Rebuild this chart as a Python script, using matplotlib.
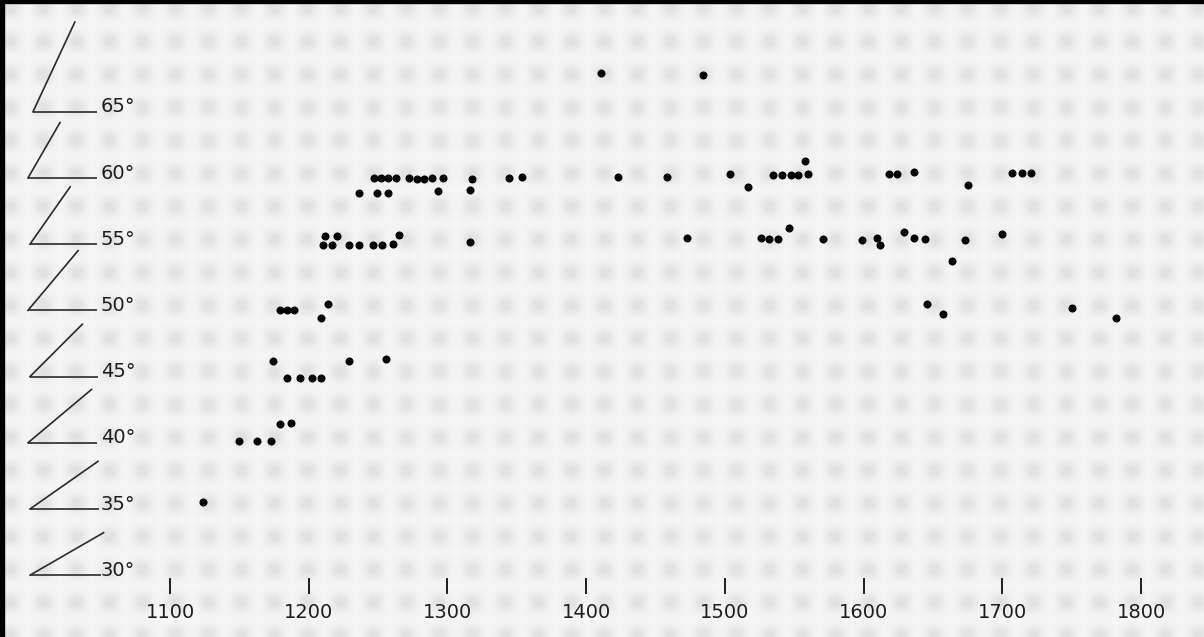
import numpy as np
import matplotlib
matplotlib.use("Agg")
import matplotlib.pyplot as plt
from matplotlib.patches import Rectangle

# ---------------- data ----------------
years_early = [1124, 1150, 1163, 1173, 1179, 1187, 1174, 1184, 1194, 1202, 1209,
               1229, 1256, 1179, 1184, 1189, 1209, 1214, 1210, 1217, 1212, 1220,
               1229, 1236, 1246, 1253, 1261, 1265, 1316, 1236, 1249, 1257, 1293,
               1316, 1247, 1252, 1257, 1263, 1272, 1278, 1283, 1289, 1297, 1318,
               1344, 1354]
angles_early = [35.5, 40.1, 40.1, 40.1, 41.4, 41.5, 46.2, 44.9, 44.9, 44.9, 44.9,
                46.2, 46.3, 50.0, 50.0, 50.0, 49.4, 50.5, 54.9, 54.9, 55.6, 55.6,
                54.9, 54.9, 54.9, 54.9, 55.0, 55.7, 55.2, 58.9, 58.9, 58.9, 59.0,
                59.1, 60.0, 60.0, 60.0, 60.0, 60.0, 59.9, 59.9, 60.0, 60.0, 59.9,
                60.0, 60.1]

years_late = [1411, 1484, 1423, 1458, 1504, 1517, 1535, 1541, 1548, 1553, 1560,
              1558, 1618, 1624, 1636, 1707, 1714, 1721, 1675, 1473, 1526, 1532,
              1538, 1546, 1571, 1599, 1610, 1612, 1629, 1636, 1644, 1673, 1700,
              1664, 1646, 1657, 1750, 1782]
angles_late = [67.9, 67.8, 60.1, 60.1, 60.3, 59.3, 60.2, 60.2, 60.2, 60.2, 60.3,
               61.3, 60.3, 60.3, 60.45, 60.4, 60.4, 60.4, 59.5, 55.5, 55.5, 55.4,
               55.4, 56.2, 55.4, 55.3, 55.5, 54.9, 55.9, 55.5, 55.4, 55.3, 55.8,
               53.7, 50.5, 49.7, 50.2, 49.4]

x_ticks = [1100, 1200, 1300, 1400, 1500, 1600, 1700, 1800]
angle_levels = [65, 60, 55, 50, 45, 40, 35, 30]
angle_labels = ["65°", "60°", "55°", "50°", "45°", "40°", "35°", "30°"]

# ---------------- figure ----------------
W, H = 1204, 637
fig = plt.figure(figsize=(W / 100, H / 100), dpi=100)
ax = fig.add_axes([0, 0, 1, 1])
ax.axis("off")
xmin, xmax = 977.4, 1845.4
ymin, ymax = 25.33, 73.44
ax.set_xlim(xmin, xmax)
ax.set_ylim(ymin, ymax)
ppx = W / (xmax - xmin)   # pixels per year
ppy = H / (ymax - ymin)   # pixels per degree

# soft halftone-like background texture
gx, gy = np.meshgrid(np.arange(W), np.arange(H))
sp = 33.0
spot = (1 + np.cos(2 * np.pi * (gx - 10) / sp)) / 2 * (1 + np.cos(2 * np.pi * (gy - 8) / sp)) / 2
bg = 0.958 - 0.075 * spot
ax.imshow(bg, cmap="gray", vmin=0, vmax=1, extent=[xmin, xmax, ymin, ymax],
          aspect="auto", zorder=0, interpolation="bilinear")

# angle glyphs on the left
starts_px = [33, 28, 30, 28, 30, 28, 30, 30]
ends_px = [97, 97, 97, 97, 98, 97, 99, 101]
lengths_px = [99, 64, 70, 78, 74, 83, 83, 85]
for lvl, lab, s, e, L in zip(angle_levels, angle_labels, starts_px, ends_px, lengths_px):
    x0 = xmin + s / ppx
    x1 = xmin + e / ppx
    ax.plot([x0, x1], [lvl, lvl], color="#2a2a2a", lw=1.2, solid_capstyle="butt", zorder=2)
    th = np.radians(lvl)
    xe = x0 + L * np.cos(th) / ppx
    ye = lvl + L * np.sin(th) / ppy
    ax.plot([x0, xe], [lvl, ye], color="#2a2a2a", lw=1.2, zorder=2)
    ax.text(xmin + 101 / ppx, lvl - 0.05, lab, ha="left", va="baseline",
            fontsize=14, color="#1e1e1e", family="DejaVu Sans", zorder=3)

# x ticks and labels
y_t0 = ymax - 579 / ppy
y_t1 = ymax - 593 / ppy
y_lab = ymax - 612 / ppy
for xt in x_ticks:
    ax.plot([xt, xt], [y_t0, y_t1], color="#1e1e1e", lw=1.4, zorder=2)
    ax.text(xt, y_lab, str(xt), ha="center", va="center", fontsize=14,
            color="#1e1e1e", family="DejaVu Sans", zorder=3)

# data points
ax.plot(years_early, angles_early, "o", color="black", ms=5.8, mec="none", zorder=4)
ax.plot(years_late, angles_late, "o", color="black", ms=5.8, mec="none", zorder=4)

# scanned frame: top and left dark edges
fig.patches.append(Rectangle((0, 0), 4 / W, 1, transform=fig.transFigure,
                             color="black", zorder=10))
fig.patches.append(Rectangle((0, 1 - 3 / H), 1, 3 / H, transform=fig.transFigure,
                             color="black", zorder=10))

fig.savefig("out.png", dpi=100)
